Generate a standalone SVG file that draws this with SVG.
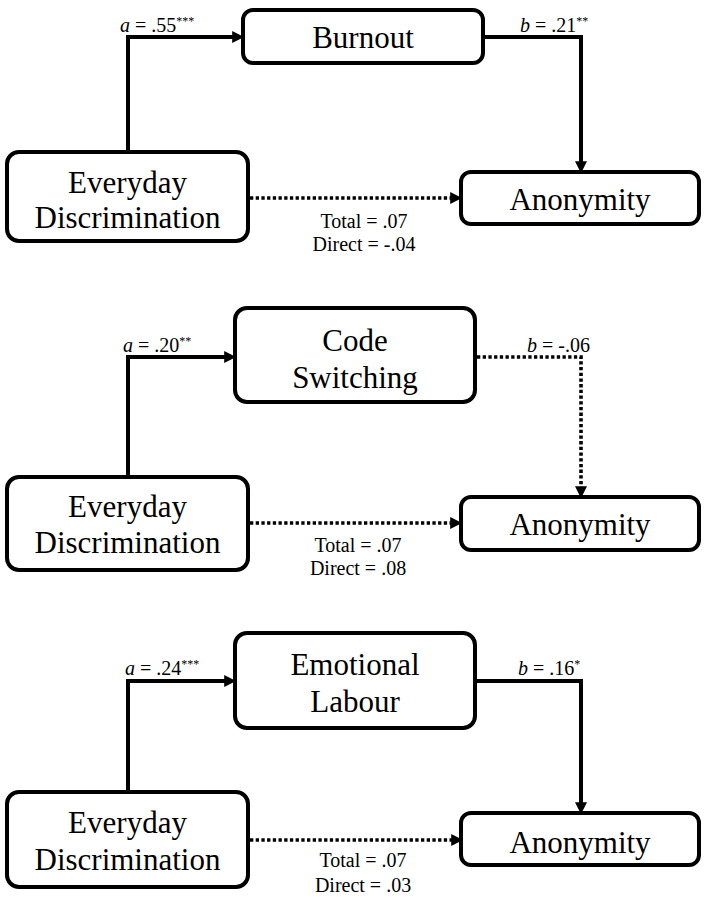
<svg xmlns="http://www.w3.org/2000/svg" width="709" height="900" viewBox="0 0 709 900">
<style>
text{font-family:'Liberation Serif','Times New Roman',serif;fill:#000}
.box{fill:#fff;stroke:#000;stroke-width:4}
.nt{font-size:31px;text-anchor:middle}
.lb{font-size:20px}
.ct{font-size:20px;text-anchor:middle}
.sup{font-size:12px}
.solid{fill:none;stroke:#000;stroke-width:4;stroke-linejoin:miter}
.dot{fill:none;stroke:#000;stroke-width:3.6;stroke-dasharray:3.3 2.4}
</style>
<defs>
<marker id="ah" markerUnits="userSpaceOnUse" markerWidth="12" markerHeight="12" viewBox="0 0 10 10" refX="4" refY="5" orient="auto">
<path d="M0,0 L10,5 L0,10 z" fill="#000"/>
</marker>
</defs>
<g id="connectors">
<path class="solid" d="M128,152 V37 H237" marker-end="url(#ah)"/>
<path class="solid" d="M483,37 H581 V166" marker-end="url(#ah)"/>
<path class="dot" d="M250,198 H455" marker-end="url(#ah)"/>
<path class="solid" d="M128,477 V357 H229" marker-end="url(#ah)"/>
<path class="dot" d="M477,357 H581 V491" marker-end="url(#ah)"/>
<path class="dot" d="M250,523 H455" marker-end="url(#ah)"/>
<path class="solid" d="M128,792 V681 H229" marker-end="url(#ah)"/>
<path class="solid" d="M475,681 H581 V807" marker-end="url(#ah)"/>
<path class="dot" d="M250,840 H456" marker-end="url(#ah)"/>
</g>
<g id="labels">
<text class="lb" x="120" y="32"><tspan font-style="italic">a</tspan> = .55<tspan class="sup" dy="-7">***</tspan></text>
<text class="lb" x="520" y="32"><tspan font-style="italic">b</tspan> = .21<tspan class="sup" dy="-7">**</tspan></text>
<text class="ct" x="364" y="228">Total = .07</text>
<text class="ct" x="364" y="251">Direct = -.04</text>
<text class="lb" x="123" y="352"><tspan font-style="italic">a</tspan> = .20<tspan class="sup" dy="-7">**</tspan></text>
<text class="lb" x="527" y="352"><tspan font-style="italic">b</tspan> = -.06</text>
<text class="ct" x="358" y="552">Total = .07</text>
<text class="ct" x="358" y="575">Direct = .08</text>
<text class="lb" x="125" y="675"><tspan font-style="italic">a</tspan> = .24<tspan class="sup" dy="-7">***</tspan></text>
<text class="lb" x="518" y="675"><tspan font-style="italic">b</tspan> = .16<tspan class="sup" dy="-7">*</tspan></text>
<text class="ct" x="363" y="867">Total = .07</text>
<text class="ct" x="363" y="892">Direct = .03</text>
</g>
<g id="burnout">
<rect class="box" x="243" y="10" width="240" height="53" rx="10"/>
<text class="nt" x="363" y="48">Burnout</text>
</g>
<g id="everyday1">
<rect class="box" x="7" y="152" width="241" height="89" rx="12"/>
<text class="nt" x="127.5" y="193">Everyday</text>
<text class="nt" x="127.5" y="228">Discrimination</text>
</g>
<g id="anonymity1">
<rect class="box" x="461" y="172" width="238" height="52" rx="10"/>
<text class="nt" x="580" y="210">Anonymity</text>
</g>
<g id="codeswitching">
<rect class="box" x="235" y="308" width="240" height="94" rx="12"/>
<text class="nt" x="355" y="351">Code</text>
<text class="nt" x="355" y="388">Switching</text>
</g>
<g id="everyday2">
<rect class="box" x="7" y="477" width="241" height="93" rx="12"/>
<text class="nt" x="127.5" y="517">Everyday</text>
<text class="nt" x="127.5" y="553">Discrimination</text>
</g>
<g id="anonymity2">
<rect class="box" x="461" y="497" width="238" height="53" rx="10"/>
<text class="nt" x="580" y="535">Anonymity</text>
</g>
<g id="emotionallabour">
<rect class="box" x="235" y="633" width="240" height="95" rx="12"/>
<text class="nt" x="355" y="675">Emotional</text>
<text class="nt" x="355" y="712">Labour</text>
</g>
<g id="everyday3">
<rect class="box" x="7" y="792" width="241" height="95" rx="12"/>
<text class="nt" x="127.5" y="833">Everyday</text>
<text class="nt" x="127.5" y="870">Discrimination</text>
</g>
<g id="anonymity3">
<rect class="box" x="461" y="813" width="238" height="52" rx="10"/>
<text class="nt" x="580" y="853">Anonymity</text>
</g>
</svg>
